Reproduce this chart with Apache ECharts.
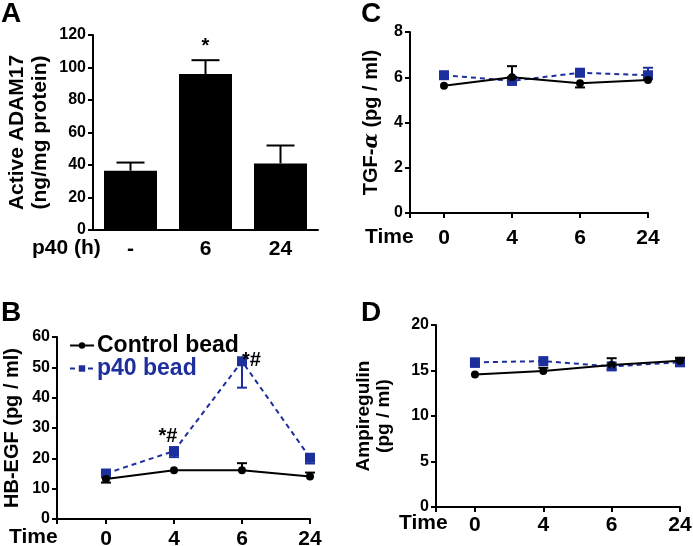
<!DOCTYPE html>
<html>
<head>
<meta charset="utf-8">
<script src="https://cdn.jsdelivr.net/npm/echarts@6/dist/echarts.min.js"></script>
<style>
  html, body { margin: 0; padding: 0; background: #fff; }
  #main { width: 693px; height: 546px; }
</style>
</head>
<body>
<div id="main"></div>
<script>
// panel A - active ADAM17
var adamCats = ['-', '6', '24'];
var adamValues = [36.5, 96, 41];
var adamErrTop = [41.5, 104.5, 52];
var adamSig = ['', '*', ''];

// time points for B, C, D
var timeLabels = ['0', '4', '6', '24'];

// panel B - HB-EGF
var hbControl = [13.2, 16.1, 16.1, 14.0];
var hbControlErr = [12.0, null, 18.4, 15.3];
var hbP40 = [15.0, 22.4, 52.0, 20.2];
var hbP40Err = [null, 20.4, 43.3, 18.3];
var hbSig = ['', '*#', '*#', ''];

// panel C - TGF-alpha
var tgfControl = [5.62, 6.0, 5.73, 5.88];
var tgfControlErr = [null, 6.49, 5.55, null];
var tgfP40 = [6.09, 5.84, 6.2, 6.09];
var tgfP40Err = [null, 5.68, null, 6.42];

// panel D - amphiregulin
var amControl = [14.57, 14.95, 15.6, 16.07];
var amControlErr = [null, 15.3, 16.35, 16.4];
var amP40 = [15.9, 16.03, 15.45, 15.9];
var amP40Err = [15.4, null, 15.1, null];

var BLUE = '#1d2f9c';
var FONT = 'Liberation Sans, Arial, sans-serif';

var chart = echarts.init(document.getElementById('main'), null, { renderer: 'canvas' });

function pts(vals) {
    return vals.map(function (v, i) { return [i, v]; });
}
function errPts(vals, ends) {
    var out = [];
    vals.forEach(function (v, i) {
        if (ends[i] != null) out.push([i, v, ends[i]]);
    });
    return out;
}

// vertical error bar with a cap
function errRender(capW) {
    return function (params, api) {
        var p0 = api.coord([api.value(0), api.value(1)]);
        var p1 = api.coord([api.value(0), api.value(2)]);
        var style = { stroke: api.visual('color'), lineWidth: 2 };
        return {
            type: 'group',
            children: [
                { type: 'line', shape: { x1: p0[0], y1: p0[1], x2: p1[0], y2: p1[1] }, style: style },
                { type: 'line', shape: { x1: p1[0] - capW / 2, y1: p1[1], x2: p1[0] + capW / 2, y2: p1[1] }, style: style }
            ]
        };
    };
}

function axisX(idx, min, margin) {
    return {
        type: 'value', gridIndex: idx, min: min, max: 3,
        axisLine: { onZero: false, lineStyle: { color: '#000', width: 2 } },
        axisTick: { show: true, length: 5, lineStyle: { color: '#000', width: 2 }, customValues: [min, 0, 1, 2, 3] },
        axisLabel: {
            customValues: [0, 1, 2, 3], margin: margin,
            color: '#000', fontSize: 21, fontWeight: 'bold', fontFamily: FONT,
            formatter: function (v) { return timeLabels[Math.round(v)]; }
        },
        splitLine: { show: false }
    };
}

function axisY(idx, max, interval, name, gap, fs, lh, extra) {
    var a = {
        type: 'value', gridIndex: idx, min: 0, max: max, interval: interval,
        name: name, nameLocation: 'middle', nameGap: gap, nameRotate: 90,
        nameTextStyle: { color: '#000', fontSize: fs, fontWeight: 'bold', fontFamily: FONT, lineHeight: lh },
        axisLine: { show: true, onZero: false, lineStyle: { color: '#000', width: 2 } },
        axisTick: { show: true, length: 5, lineStyle: { color: '#000', width: 2 } },
        axisLabel: { color: '#000', fontSize: 16, fontWeight: 'bold', fontFamily: FONT, margin: 7 },
        splitLine: { show: false }
    };
    if (extra) a.nameTextStyle.rich = extra;
    return a;
}

function lineSeries(name, idx, vals, color, dashed, symbol, size) {
    return {
        name: name, type: 'line', xAxisIndex: idx, yAxisIndex: idx,
        data: pts(vals), symbol: symbol, symbolSize: size,
        itemStyle: { color: color },
        lineStyle: { color: color, width: 2, type: dashed ? [5, 4] : 'solid' },
        z: dashed ? 3 : 4
    };
}

function errSeries(name, idx, vals, ends, color) {
    return {
        name: name, type: 'custom', xAxisIndex: idx, yAxisIndex: idx,
        data: errPts(vals, ends), renderItem: errRender(10),
        itemStyle: { color: color }, encode: { x: 0, y: [1, 2] }, z: 5
    };
}

var hbP40Data = pts(hbP40).map(function (p, i) {
    if (!hbSig[i]) return p;
    return {
        value: p,
        label: {
            show: true, formatter: hbSig[i], color: '#000', fontSize: 20, fontWeight: 'bold', fontFamily: FONT,
            position: i === 1 ? 'top' : 'right', offset: i === 1 ? [-6, 5] : [-10, -1]
        }
    };
});

var hbP40Series = lineSeries('p40 bead', 1, hbP40, BLUE, true, 'rect', 10);
hbP40Series.data = hbP40Data;

var option = {
    animation: false,
    textStyle: { fontFamily: FONT },
    grid: [
        { left: 93, top: 35, width: 225, height: 195, outerBoundsMode: 'none' },
        { left: 57, top: 337, width: 253, height: 182, outerBoundsMode: 'none' },
        { left: 410, top: 32, width: 238, height: 181, outerBoundsMode: 'none' },
        { left: 436, top: 325, width: 244, height: 182, outerBoundsMode: 'none' }
    ],
    legend: {
        left: 64, top: 329, orient: 'vertical', itemGap: 0,
        itemWidth: 24, itemHeight: 8,
        textStyle: { fontSize: 23, fontWeight: 'bold', fontFamily: FONT, padding: [0, 0, 0, -2] },
        data: [
            { name: 'Control bead', textStyle: { color: '#000' } },
            { name: 'p40 bead', textStyle: { color: BLUE } }
        ]
    },
    xAxis: [
        {
            type: 'category', gridIndex: 0, data: adamCats,
            axisLine: { lineStyle: { color: '#000', width: 2 } },
            axisTick: { alignWithLabel: true, length: 5, lineStyle: { color: '#000', width: 2 } },
            axisLabel: { color: '#000', fontSize: 21, fontWeight: 'bold', fontFamily: FONT, margin: 9 }
        },
        axisX(1, -0.72, 10),
        axisX(2, -0.5, 15),
        axisX(3, -0.57, 8)
    ],
    yAxis: [
        axisY(0, 120, 20, 'Active ADAM17\n(ng/mg protein)', 41, 21, 23),
        axisY(1, 60, 10, 'HB-EGF (pg / ml)', 33, 20, 23),
        axisY(2, 8, 2, 'TGF-{g|α} (pg / ml)', 27, 20, 23, {
            g: { fontFamily: 'DejaVu Serif', fontStyle: 'italic', fontSize: 20, color: '#000' }
        }),
        axisY(3, 20, 5, 'Ampiregulin\n(pg / ml)', 42, 19, 20)
    ],
    series: [
        {
            type: 'bar', xAxisIndex: 0, yAxisIndex: 0, data: adamValues,
            barWidth: 53, itemStyle: { color: '#000' }
        },
        {
            type: 'custom', xAxisIndex: 0, yAxisIndex: 0,
            data: adamValues.map(function (v, i) { return [i, v, adamErrTop[i]]; }),
            encode: { x: 0, y: [1, 2] },
            renderItem: function (params, api) {
                var i = api.value(0);
                var p0 = api.coord([i, api.value(1)]);
                var p1 = api.coord([i, api.value(2)]);
                var st = { stroke: '#000', lineWidth: 2 };
                return {
                    type: 'group',
                    children: [
                        { type: 'line', shape: { x1: p0[0], y1: p0[1], x2: p1[0], y2: p1[1] }, style: st },
                        { type: 'line', shape: { x1: p1[0] - 14, y1: p1[1], x2: p1[0] + 14, y2: p1[1] }, style: st },
                        {
                            type: 'text',
                            style: {
                                text: adamSig[i], x: p1[0], y: p1[1] - 4,
                                align: 'center', verticalAlign: 'bottom',
                                fill: '#000', font: 'bold 20px ' + FONT
                            }
                        }
                    ]
                };
            },
            z: 5
        },

        lineSeries('Control bead', 1, hbControl, '#000', false, 'circle', 8),
        hbP40Series,
        errSeries('Control bead', 1, hbControl, hbControlErr, '#000'),
        errSeries('p40 bead', 1, hbP40, hbP40Err, BLUE),

        lineSeries('Control bead', 2, tgfControl, '#000', false, 'circle', 8),
        lineSeries('p40 bead', 2, tgfP40, BLUE, true, 'rect', 10),
        errSeries('Control bead', 2, tgfControl, tgfControlErr, '#000'),
        errSeries('p40 bead', 2, tgfP40, tgfP40Err, BLUE),

        lineSeries('Control bead', 3, amControl, '#000', false, 'circle', 8),
        lineSeries('p40 bead', 3, amP40, BLUE, true, 'rect', 10),
        errSeries('Control bead', 3, amControl, amControlErr, '#000'),
        errSeries('p40 bead', 3, amP40, amP40Err, BLUE)
    ],
    graphic: [
        { type: 'text', left: 1, top: 0, style: { text: 'A', font: 'bold 28px ' + FONT, fill: '#000' } },
        { type: 'text', left: 1, top: 299, style: { text: 'B', font: 'bold 28px ' + FONT, fill: '#000' } },
        { type: 'text', left: 361, top: 0, style: { text: 'C', font: 'bold 28px ' + FONT, fill: '#000' } },
        { type: 'text', left: 361, top: 299, style: { text: 'D', font: 'bold 28px ' + FONT, fill: '#000' } },
        { type: 'text', left: 32, top: 238, style: { text: 'p40 (h)', font: 'bold 21px ' + FONT, fill: '#000' } },
        { type: 'text', left: 9, top: 527, style: { text: 'Time', font: 'bold 21px ' + FONT, fill: '#000' } },
        { type: 'text', left: 365, top: 227, style: { text: 'Time', font: 'bold 21px ' + FONT, fill: '#000' } },
        { type: 'text', left: 399, top: 513, style: { text: 'Time', font: 'bold 21px ' + FONT, fill: '#000' } }
    ]
};

chart.setOption(option);
</script>
</body>
</html>
